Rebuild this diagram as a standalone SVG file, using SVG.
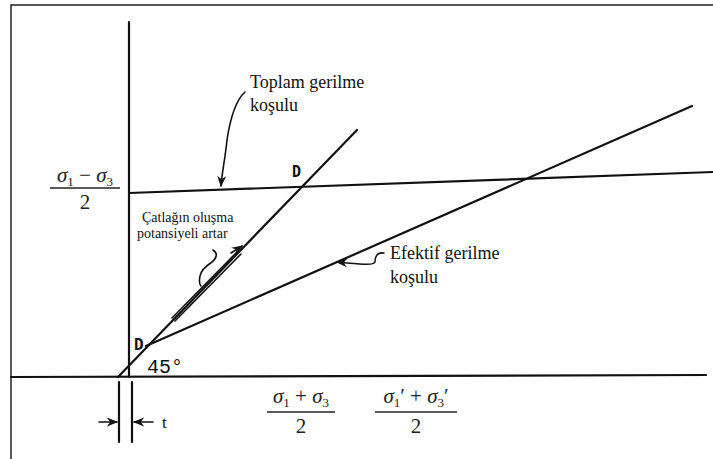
<svg xmlns="http://www.w3.org/2000/svg" width="713" height="459" viewBox="0 0 713 459">
<defs>
<style>
.ln{stroke:#111;stroke-width:2.2;fill:none;stroke-linecap:round}
.thin{stroke:#111;stroke-width:1.6;fill:none;stroke-linecap:round}
.lbl{font-family:"Liberation Serif","DejaVu Serif",serif;fill:#111}
.math{font-family:"Liberation Serif","DejaVu Serif",serif;fill:#222}
.sig{font-style:italic}
.sub{font-size:13px}
.d{font-family:"DejaVu Sans Mono","Liberation Mono",monospace;font-weight:bold;fill:#111}
.mono{font-family:"Liberation Mono","DejaVu Sans Mono",monospace;fill:#111}
</style>
<marker id="ah" viewBox="0 0 10 10" refX="9" refY="5" markerWidth="7" markerHeight="7" orient="auto-start-reverse">
<path d="M0,1 L10,5 L0,9 L3,5 Z" fill="#111"/>
</marker>
</defs>
<rect x="0" y="0" width="713" height="459" fill="#fff"/>
<g id="frame">
<path d="M11,459 L11,5 L713,5" stroke="#222" stroke-width="1.5" fill="none"/>
</g>
<g id="connectors">
<path class="ln" d="M129,22 L129,377"/>
<path class="ln" d="M11,377 L706,375"/>
<path class="ln" d="M129,193 L713,172"/>
<path class="ln" d="M118,377 L357,130"/>
<path class="ln" d="M146,346 L692,106"/>
<path class="ln" d="M119,382 L119,442"/>
<path class="ln" d="M132,382 L132,442"/>
<path class="thin" d="M99,422 L117,422" marker-end="url(#ah)"/>
<path class="thin" d="M153,422 L134,422" marker-end="url(#ah)"/>
<path class="thin" d="M245,92 C236,100 230,120 227,140 C225,160 222,172 221,186" marker-end="url(#ah)"/>
<path class="thin" d="M384,253 C376,252 375,258 375,262 C373,266 360,264 337,262" marker-end="url(#ah)"/>
<path class="thin" d="M172,318 L238,251"/>
<path class="thin" d="M175,321 L241,254"/>
<path class="thin" d="M231,253 L242,246" marker-end="url(#ah)"/>
<path class="thin" d="M213,250 C218,253 217,258 212,262 C206,266 201,270 200,276 C199,281 199,284 201,286"/>
</g>
<g id="n-sigma-diff">
<text class="math" x="85" y="182" font-size="21" text-anchor="middle"><tspan class="sig">σ</tspan><tspan class="sub" dy="4">1</tspan><tspan dy="-4"> − </tspan><tspan class="sig">σ</tspan><tspan class="sub" dy="4">3</tspan></text>
<line x1="50" y1="188" x2="120" y2="188" stroke="#222" stroke-width="1.3"/>
<text class="math" x="85" y="209" font-size="21" text-anchor="middle">2</text>
</g>
<g id="n-sigma-sum">
<text class="math" x="301" y="403" font-size="21" text-anchor="middle"><tspan class="sig">σ</tspan><tspan class="sub" dy="4">1</tspan><tspan dy="-4"> + </tspan><tspan class="sig">σ</tspan><tspan class="sub" dy="4">3</tspan></text>
<line x1="267" y1="412" x2="335" y2="412" stroke="#222" stroke-width="1.3"/>
<text class="math" x="301" y="433" font-size="21" text-anchor="middle">2</text>
</g>
<g id="n-sigma-sum-eff">
<text class="math" x="416" y="403" font-size="21" text-anchor="middle"><tspan class="sig">σ</tspan><tspan class="sub" dy="4">1</tspan><tspan dy="-4">′ + </tspan><tspan class="sig">σ</tspan><tspan class="sub" dy="4">3</tspan><tspan dy="-4">′</tspan></text>
<line x1="375" y1="412" x2="457" y2="412" stroke="#222" stroke-width="1.3"/>
<text class="math" x="416" y="433" font-size="21" text-anchor="middle">2</text>
</g>
<g id="n-toplam">
<text class="lbl" x="250" y="88" font-size="18">Toplam gerilme</text>
<text class="lbl" x="250" y="111" font-size="18">koşulu</text>
</g>
<g id="n-efektif">
<text class="lbl" x="390" y="259" font-size="18">Efektif gerilme</text>
<text class="lbl" x="390" y="283" font-size="18">koşulu</text>
</g>
<g id="n-catlak">
<text class="lbl" x="142" y="222" font-size="14">Çatlağın oluşma</text>
<text class="lbl" x="137" y="238" font-size="14">potansiyeli artar</text>
</g>
<g id="n-D-upper">
<text class="d" x="292" y="177" font-size="15">D</text>
</g>
<g id="n-D-lower">
<text class="d" x="134" y="350" font-size="16">D</text>
</g>
<g id="n-45">
<text class="mono" x="147" y="373" font-size="20">45°</text>
</g>
<g id="n-t">
<text class="lbl" x="162" y="428" font-size="17">t</text>
</g>
</svg>
